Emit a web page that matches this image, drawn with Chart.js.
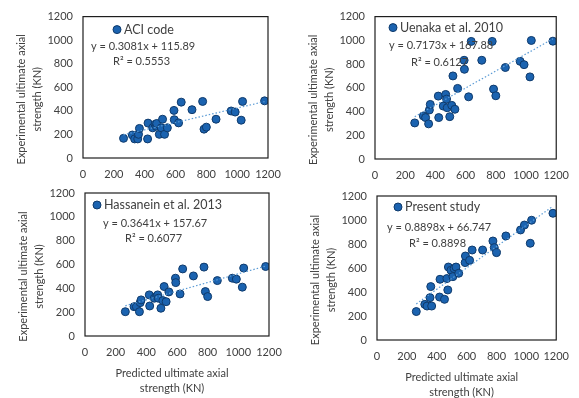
<!DOCTYPE html>
<html>
<head>
<meta charset="utf-8">
<script src="https://cdn.jsdelivr.net/npm/chart.js@4.4.1/dist/chart.umd.min.js"></script>
<style>
  body { margin: 0; background: #fff; }
  #wrap { position: relative; width: 579px; height: 398px; }
  #wrap canvas { position: absolute; left: 0; top: 0; }
</style>
</head>
<body>
<div id="wrap">
  <canvas id="c0" width="579" height="398"></canvas>
  <canvas id="c1" width="579" height="398"></canvas>
  <canvas id="c2" width="579" height="398"></canvas>
  <canvas id="c3" width="579" height="398"></canvas>
</div>
<script>
// predicted ultimate axial strength (KN), shared by all four panels
const predicted = [263, 320, 335, 355, 360, 366, 419, 422, 452, 468, 474, 478, 495, 508, 516, 529, 547, 590, 592, 620, 637, 707, 776, 785, 800, 863, 961, 987, 1026, 1035, 1178]

// experimental ultimate axial strength (KN)
const aciCode = [167, 195, 162, 162, 201, 251, 162, 296, 256, 285, 270, 293, 201, 256, 329, 201, 256, 404, 325, 298, 474, 410, 480, 245, 262, 329, 399, 390, 321, 480, 485]
const uenaka = [304, 363, 349, 296, 413, 460, 530, 349, 446, 544, 505, 432, 357, 452, 700, 419, 595, 832, 756, 524, 991, 832, 991, 589, 533, 771, 823, 795, 692, 999, 993]
const hassanein = [204, 246, 246, 204, 280, 303, 345, 252, 317, 336, 345, 317, 233, 297, 415, 288, 370, 485, 448, 353, 563, 504, 578, 373, 331, 465, 485, 477, 410, 570, 583]
const presentStudy = [237, 297, 283, 353, 445, 283, 358, 506, 339, 512, 417, 608, 581, 528, 595, 608, 556, 645, 700, 664, 750, 750, 825, 770, 728, 867, 917, 958, 806, 998, 1056]

const seriesNames = ['ACI code', 'Uenaka et al. 2010', 'Hassanein et al. 2013', 'Present study']
const seriesValues = [aciCode, uenaka, hassanein, presentStudy]

// linear trendlines as printed on the chart
const slopes = ['0.3081', '0.7173', '0.3641', '0.8898']
const intercepts = ['115.89', '167.88', '157.67', '66.747']
const rSquared = ['0.5553', '0.6127', '0.6077', '0.8898']

const axisTicks = [0, 200, 400, 600, 800, 1000, 1200]

// plot rectangles [left, top, right, bottom] and label offsets inside each plot
const panels = [
    { plot: [83, 15, 268, 158], legend: [34, 13], eq: [8, 30], r2: [30, 45], xTitle: false },
    { plot: [375, 16, 559, 159], legend: [18, 11], eq: [14, 29], r2: [36, 46], xTitle: false },
    { plot: [85, 193, 269, 336], legend: [12, 12], eq: [18, 30], r2: [40, 45], xTitle: true },
    { plot: [377, 196, 562, 340], legend: [21, 11], eq: [10, 31], r2: [32, 47], xTitle: true },
]

const W = 579, H = 398
const Y_AXIS_W = 42, X_AXIS_H = 25
const textColor = '#404040'
const pointFill = '#1b63b0'
const pointEdge = '#0f3a6b'

Chart.defaults.font.family = 'Lato'
Chart.defaults.color = textColor

function panelText(i) {
    const p = panels[i]
    return {
        id: 'panelText' + i,
        afterDraw(chart) {
            const ctx = chart.ctx
            const a = chart.chartArea
            ctx.save()
            // plot area border
            ctx.strokeStyle = '#1e1e1e'
            ctx.lineWidth = 1.2
            ctx.strokeRect(a.left, a.top, a.right - a.left, a.bottom - a.top)

            // legend
            ctx.beginPath()
            ctx.arc(a.left + p.legend[0], a.top + p.legend[1], 4, 0, Math.PI * 2)
            ctx.fillStyle = pointFill
            ctx.fill()
            ctx.strokeStyle = pointEdge
            ctx.lineWidth = 1
            ctx.stroke()
            ctx.fillStyle = textColor
            ctx.textBaseline = 'middle'
            ctx.textAlign = 'left'
            ctx.font = '12.5px Lato'
            ctx.fillText(seriesNames[i], a.left + p.legend[0] + 7, a.top + p.legend[1])

            // trendline equation
            ctx.font = '11px Lato'
            ctx.fillText('y = ' + slopes[i] + 'x + ' + intercepts[i], a.left + p.eq[0], a.top + p.eq[1])
            ctx.fillText('R² = ' + rSquared[i], a.left + p.r2[0], a.top + p.r2[1])

            // axis titles
            ctx.textAlign = 'center'
            const cy = (a.top + a.bottom) / 2 + 12
            ctx.save()
            ctx.translate(a.left - 62, cy)
            ctx.rotate(-Math.PI / 2)
            ctx.fillText('Experimental ultimate axial', 0, 0)
            ctx.restore()
            ctx.save()
            ctx.translate(a.left - 46, cy)
            ctx.rotate(-Math.PI / 2)
            ctx.fillText('strength (KN)', 0, 0)
            ctx.restore()
            if (p.xTitle) {
                const cx = (a.left + a.right) / 2 - 5
                ctx.fillText('Predicted ultimate axial', cx, a.bottom + 37)
                ctx.fillText('strength (KN)', cx, a.bottom + 52)
            }
            ctx.restore()
        }
    }
}

function axis(fit) {
    return {
        type: 'linear',
        min: 0,
        max: 1200,
        grid: { display: false, drawTicks: false },
        border: { display: false },
        ticks: {
            padding: 10, color: textColor, font: { size: 11 }, maxRotation: 0, autoSkip: false,
            callback: v => String(v)
        },
        afterBuildTicks: s => { s.ticks = axisTicks.map(v => ({ value: v })) },
        afterFit: fit
    }
}

function showPanel(i) {
    const p = panels[i]
    const ys = seriesValues[i]
    const m = parseFloat(slopes[i]), b = parseFloat(intercepts[i])
    const xMin = Math.min(...predicted), xMax = Math.max(...predicted)
    new Chart(document.getElementById('c' + i), {
        type: 'scatter',
        data: {
            datasets: [
                {
                    label: 'Linear (' + seriesNames[i] + ')',
                    data: [xMin, xMax].map(x => ({ x: x, y: m * x + b })),
                    showLine: true,
                    borderColor: '#5b9bd5',
                    borderWidth: 1.2,
                    borderDash: [1.5, 2],
                    pointRadius: 0,
                    order: 0
                },
                {
                    label: seriesNames[i],
                    data: predicted.map((x, k) => ({ x: x, y: ys[k] })),
                    backgroundColor: pointFill,
                    borderColor: pointEdge,
                    borderWidth: 1,
                    pointRadius: 4,
                    order: 1
                }
            ]
        },
        options: {
            responsive: false,
            animation: false,
            events: [],
            layout: {
                padding: {
                    left: p.plot[0] - Y_AXIS_W,
                    top: p.plot[1],
                    right: W - p.plot[2],
                    bottom: H - p.plot[3] - X_AXIS_H
                }
            },
            plugins: {
                legend: { display: false },
                tooltip: { enabled: false }
            },
            scales: {
                x: axis(s => { s.height = X_AXIS_H }),
                y: axis(s => { s.width = Y_AXIS_W })
            }
        },
        plugins: [panelText(i)]
    })
}

for (let i = 0; i < panels.length; i++) showPanel(i)
</script>
</body>
</html>
